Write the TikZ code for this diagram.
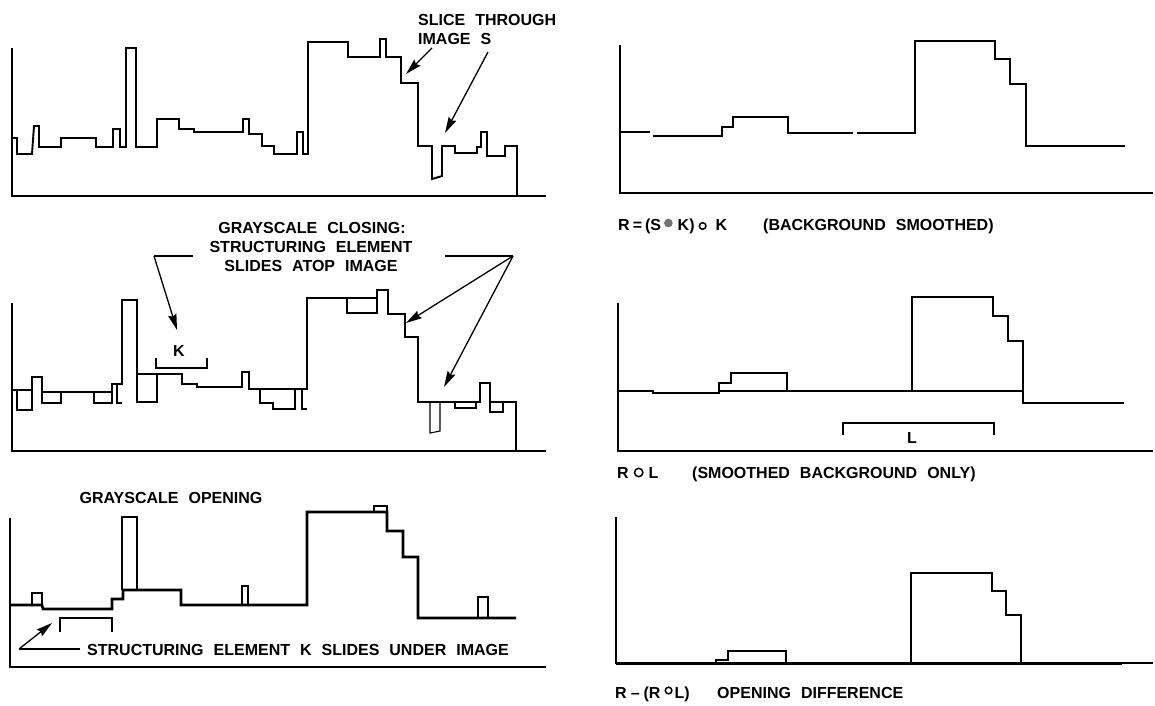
\documentclass[tikz,border=0pt]{standalone}
\usepackage{fontspec}
\newfontfamily\labfont{Liberation Sans}
\usetikzlibrary{arrows.meta}
\newcommand{\labsetup}{\labfont\bfseries\fontsize{16}{19}\selectfont\spaceskip=10pt plus 2pt minus 1pt\relax}
\newcommand{\labtsetup}{\labfont\bfseries\fontsize{16}{19}\selectfont}
\newcommand{\blackdot}{\tikz[baseline=0pt]\fill[black!55] (0pt,0pt) circle[radius=0.1pt] (0pt,7pt) circle[radius=4.3pt];}
\newcommand{\opendot}[2]{\tikz[baseline=0pt]\draw[line width=1.5pt] (0pt,#1) circle[radius=#2];}
\tikzset{
  axis/.style={line width=2pt},
  sig/.style={line width=1.9pt, line join=miter},
  thk/.style={line width=2.6pt, line join=miter},
  thn/.style={line width=1.1pt, line join=miter},
  lab/.style={font=\labsetup, inner sep=0pt},
  labt/.style={font=\labtsetup, inner sep=0pt},
  lead/.style={line width=1.3pt},
  arr/.style={line width=1.3pt, -{Stealth[length=16pt,width=8.5pt,inset=2pt]}},
}
\begin{document}
\begin{tikzpicture}[x=1pt,y=-1pt]
\useasboundingbox (0,0) rectangle (1155,705);

% ---------------- Panel 1 : slice through image S
\draw[axis] (12,48) -- (12,196) -- (546,196);
\draw[sig] (12,138) -- (17,138) -- (17,154) -- (32,154) -- (34,126) -- (39,126) -- (39,147)
  -- (61,147) -- (61,138) -- (96,138) -- (96,147) -- (113,147) -- (113,129) -- (120,129)
  -- (120,147) -- (126,147) -- (126,48) -- (136,48) -- (136,147) -- (157,147) -- (157,119)
  -- (179,119) -- (179,129) -- (194,129) -- (194,132) -- (243,132) -- (243,119) -- (249,119)
  -- (249,134) -- (262,134) -- (262,146) -- (274,146) -- (274,154) -- (297,154) -- (297,132)
  -- (303,132) -- (303,154) -- (308,154) -- (308,42) -- (348,42) -- (348,57) -- (380,57)
  -- (380,39) -- (386,39) -- (386,57) -- (401,57) -- (401,83) -- (418,83) -- (418,146)
  -- (432,146) -- (432,179) -- (442,176) -- (442,146) -- (455,146) -- (455,153) -- (477,153)
  -- (477,147) -- (481,147) -- (481,132) -- (487,132) -- (487,156) -- (505,156) -- (505,146)
  -- (517,146) -- (517,196);
\node[lab, anchor=base west] (slice) at (418,25) {SLICE THROUGH};
\node[lab, anchor=base west] (imgs) at (418,44) {IMAGE S};
\coordinate (s1) at (432,48);
\coordinate (t1) at (406,74);
\coordinate (s2) at (488,52);
\coordinate (t2) at (445,133);
\draw[arr] (s1) -- (t1);
\draw[arr] (s2) -- (t2);

% ---------------- Panel 2 : grayscale closing
\draw[axis] (12,303) -- (12,451) -- (546,451);
\draw[thk] (12,390) -- (32,390) -- (32,377) -- (42,377) -- (42,392) -- (112,392) -- (112,384)
  -- (122,384) -- (122,300) -- (137,300) -- (137,374) -- (182,374) -- (182,384) -- (197,384)
  -- (197,387) -- (242,387) -- (242,372) -- (249,372) -- (249,389) -- (307,389) -- (307,298)
  -- (377,298) -- (377,290) -- (388,290) -- (388,314) -- (405,314) -- (405,337) -- (418,337)
  -- (418,402) -- (480,402) -- (480,383) -- (490,383) -- (490,402) -- (516,402) -- (516,451);
\draw[thn] (17,390) -- (17,410) -- (32,410) -- (32,390);
\draw[thn] (42,392) -- (42,403) -- (61,403) -- (61,392);
\draw[thn] (94,392) -- (94,403) -- (112,403) -- (112,392);
\draw[thn] (117,384) -- (117,403) -- (122,403);
\draw[thn] (137,374) -- (137,402) -- (157,402) -- (157,374);
\draw[thn] (260,389) -- (260,403) -- (273,403) -- (273,409) -- (295,409) -- (295,389);
\draw[thn] (302,389) -- (302,409) -- (307,409);
\draw[thn] (347,298) -- (347,313) -- (377,313) -- (377,298);
\draw[thn] (430,402) -- (430,433) -- (440,431) -- (440,402);
\draw[thn] (455,402) -- (455,408) -- (476,408) -- (476,402);
\draw[thn] (490,402) -- (490,412) -- (503,412) -- (503,402);
\node[lab, anchor=base] (cl1) at (312,233) {GRAYSCALE CLOSING:};
\node[lab, anchor=base] (cl2) at (311,252) {STRUCTURING ELEMENT};
\node[lab, anchor=base] (cl3) at (311,271) {SLIDES ATOP IMAGE};
\coordinate (la) at (193,256);
\coordinate (lb) at (154,256);
\coordinate (lt) at (177,330);
\coordinate (ra) at (445,256);
\coordinate (rb) at (513,256);
\coordinate (rt1) at (406,323);
\coordinate (rt2) at (444,387);
\draw[lead] (la) -- (lb);
\draw[arr] (lb) -- (lt);
\draw[lead] (ra) -- (rb);
\draw[arr] (rb) -- (rt1);
\draw[arr] (rb) -- (rt2);
\node[lab, anchor=base] (k1) at (179,356) {K};
\draw[thk] (156,358) -- (156,368) -- (207,368) -- (207,358);

% ---------------- Panel 3 : grayscale opening
\draw[axis] (10,518) -- (10,667) -- (546,667);
\draw[thk] (10,605) -- (42,605) -- (43,609) -- (112,609) -- (112,599) -- (123,599) -- (123,590)
  -- (181,590) -- (181,605) -- (307,605) -- (307,512) -- (387,512) -- (387,531) -- (403,531)
  -- (403,557) -- (418,557) -- (418,618) -- (516,618);
\draw[thn] (32,605) -- (32,593) -- (42,593) -- (42,605);
\draw[thn] (122,590) -- (122,517) -- (137,517) -- (137,590);
\draw[thn] (242,605) -- (242,586) -- (248,586) -- (248,605);
\draw[thn] (374,512) -- (374,506) -- (387,506) -- (387,512);
\draw[thn] (478,618) -- (478,597) -- (488,597) -- (488,618);
\draw[thk] (60,632) -- (60,618) -- (112,618) -- (112,632);
\node[lab, anchor=base] (open) at (171,503) {GRAYSCALE OPENING};
\node[lab, anchor=base west] (under) at (87,655) {STRUCTURING ELEMENT K SLIDES UNDER IMAGE};
\coordinate (ua) at (80,649);
\coordinate (ub) at (19,649);
\coordinate (ut) at (52,623);
\draw[lead] (ua) -- (ub);
\draw[arr] (ub) -- (ut);

% ---------------- Panel 4 : R
\draw[axis] (620,45) -- (620,193) -- (1153,193);
\draw[thk] (620,132) -- (650,132);
\draw[thk] (653,136) -- (722,136) -- (722,127) -- (733,127) -- (733,117) -- (788,117) -- (788,133) -- (853,133);
\draw[thk] (857,133) -- (915,133) -- (915,41) -- (995,41) -- (995,59) -- (1010,59) -- (1010,84)
  -- (1026,84) -- (1026,146) -- (1125,146);
\node[labt, anchor=base west] (rdef) at (618,230)
  {R\hspace{3pt}=\hspace{3pt}(S\hspace{3pt}\blackdot\hspace{5pt}K)\hspace{4pt}\opendot{4pt}{3.3pt}\hspace{9pt}K};
\node[lab, anchor=base west] (bgs) at (763,230) {(BACKGROUND SMOOTHED)};

% ---------------- Panel 5 : R opened by L
\draw[axis] (618,303) -- (618,451) -- (1153,451);
\draw[thk] (618,391) -- (653,391) -- (653,393) -- (719,393) -- (719,391) -- (1023,391) -- (1023,403) -- (1124,403);
\draw[thn] (719,391) -- (719,383) -- (731,383) -- (731,373) -- (787,373) -- (787,391);
\draw[thn] (912,391) -- (912,297) -- (993,297) -- (993,316) -- (1008,316) -- (1008,341) -- (1023,341) -- (1023,391);
\draw[thk] (843,435) -- (843,423) -- (994,423) -- (994,435);
\node[lab, anchor=base] (l1) at (912,443) {L};
\node[labt, anchor=base west] (rol) at (617,478) {R\hspace{5pt}\opendot{5.5pt}{4.2pt}\hspace{5pt}L};
\node[lab, anchor=base west] (sbo) at (692,478) {(SMOOTHED BACKGROUND ONLY)};

% ---------------- Panel 6 : opening difference
\draw[axis] (616,517) -- (616,663) -- (1153,663);
\draw[thk] (616,664) -- (1122,664);
\draw[thk] (716,663) -- (716,660) -- (728,660) -- (728,651) -- (786,651) -- (786,663);
\draw[thk] (911,663) -- (911,573) -- (992,573) -- (992,591) -- (1006,591) -- (1006,615) -- (1021,615) -- (1021,663);
\node[labt, anchor=base west] (rdiff) at (615,698) {R\hspace{4pt}–\hspace{4pt}(R\hspace{4pt}\opendot{7.5pt}{3.3pt}\hspace{2pt}L)};
\node[lab, anchor=base west] (odiff) at (717,698) {OPENING DIFFERENCE};
\end{tikzpicture}
\end{document}
